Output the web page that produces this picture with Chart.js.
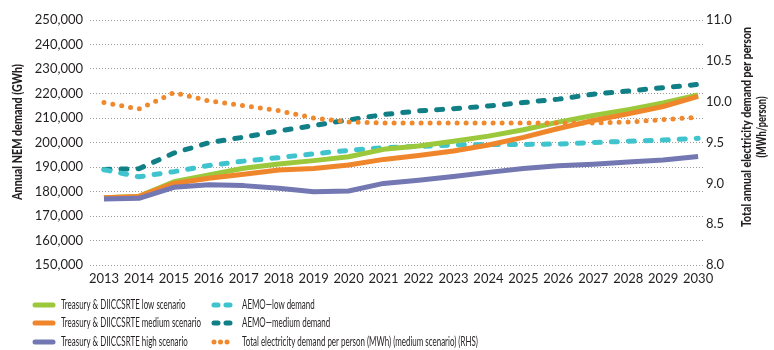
<!DOCTYPE html>
<html>
<head>
<meta charset="utf-8">
<script src="https://cdn.jsdelivr.net/npm/chart.js@4"></script>
<style>
    html, body { margin: 0; padding: 0; background: #fff; }
    #wrap { width: 774px; height: 350px; }
</style>
</head>
<body>
<div id="wrap"><canvas id="mainChart"></canvas></div>
<script>
// Datos
const years = [2013, 2014, 2015, 2016, 2017, 2018, 2019, 2020, 2021, 2022, 2023, 2024, 2025, 2026, 2027, 2028, 2029, 2030];
const treasuryLow = [177500, 178000, 184000, 186800, 189500, 191200, 192600, 194200, 197200, 198600, 200500, 202600, 205200, 208300, 211000, 213400, 216100, 219400];
const treasuryMedium = [177500, 178000, 183300, 185400, 187000, 188800, 189400, 190800, 193100, 194700, 196500, 199000, 202100, 205700, 209000, 211700, 214700, 218800];
const treasuryHigh = [176900, 177200, 181700, 182800, 182400, 181300, 179900, 180200, 183300, 184600, 186100, 187800, 189400, 190500, 191100, 192000, 192900, 194300];
const aemoLow = [188900, 186000, 188100, 190600, 192400, 193800, 195400, 196800, 197900, 198400, 199000, 199200, 199200, 199400, 200000, 200500, 201000, 201700];
const aemoMedium = [189000, 189300, 195700, 199900, 202200, 204700, 206900, 209200, 211400, 212900, 213800, 214900, 216300, 217700, 219700, 221000, 222400, 223700];
const perPerson = [9.99, 9.91, 10.11, 10.01, 9.95, 9.89, 9.80, 9.75, 9.74, 9.74, 9.74, 9.74, 9.74, 9.74, 9.74, 9.75, 9.78, 9.81];

const leftTitle = "Annual NEM demand (GWh)";
const rightTitle = ["Total annual electricity demand per person", "(MWh/person)"];

const tickFont = { family: "Lato, 'Open Sans', sans-serif", size: 13 };
const textColor = "#231f20";

function pts(values) {
    return values.map((v, i) => ({ x: years[i], y: v }));
}

function series(label, values, color, dash, axis, legendDash) {
    return {
        label: label,
        data: pts(values),
        borderColor: color,
        backgroundColor: color,
        borderWidth: 5,
        borderDash: dash,
        borderCapStyle: dash.length ? "round" : "butt",
        borderJoinStyle: "round",
        pointRadius: 0,
        tension: 0,
        yAxisID: axis,
        legendDash: legendDash,
    };
}

const datasets = [
    series("Total electricity demand per person (MWh) (medium scenario) (RHS)", perPerson, "#f0892e", [0, 9], "y1", [0, 6.5]),
    series("Treasury & DIICCSRTE high scenario", treasuryHigh, "#7378b3", [], "y", []),
    series("Treasury & DIICCSRTE medium scenario", treasuryMedium, "#f0862b", [], "y", []),
    series("Treasury & DIICCSRTE low scenario", treasuryLow, "#9cc83c", [], "y", []),
    series("AEMO\u2014low demand", aemoLow, "#3fc4cd", [6, 11], "y", [4, 8]),
    series("AEMO\u2014medium demand", aemoMedium, "#117f86", [6, 11], "y", [4, 8]),
];

// orden de la leyenda: columna 1 y columna 2
const legendOrder = [
    ["Treasury & DIICCSRTE low scenario", "Treasury & DIICCSRTE medium scenario", "Treasury & DIICCSRTE high scenario"],
    ["AEMO\u2014low demand", "AEMO\u2014medium demand", "Total electricity demand per person (MWh) (medium scenario) (RHS)"],
];

// texto girado, ajustado a un largo dado
function rotatedText(ctx, text, x, y, length) {
    const w = ctx.measureText(text).width;
    ctx.save();
    ctx.translate(x, y);
    ctx.rotate(-Math.PI / 2);
    ctx.scale(length / w, 1);
    ctx.fillText(text, 0, 0);
    ctx.restore();
}

const extrasPlugin = {
    id: "extras",
    afterDraw(chart) {
        const ctx = chart.ctx;
        ctx.save();
        ctx.fillStyle = textColor;
        ctx.textAlign = "center";
        ctx.textBaseline = "middle";
        ctx.font = "900 12.5px Lato, 'Open Sans', sans-serif";
        rotatedText(ctx, leftTitle, 18, 132, 136);
        rotatedText(ctx, rightTitle[0], 747, 127, 200);
        rotatedText(ctx, rightTitle[1], 762, 127, 61);

        // leyenda (texto estrecho, como en el original)
        const cols = [{ sx: 35, ex: 53, tx: 61 }, { sx: 214, ex: 232, tx: 242 }];
        const rows = [305, 323, 342];
        ctx.font = "13.5px Lato, 'Open Sans', sans-serif";
        ctx.textAlign = "left";
        const squeeze = 140 / ctx.measureText("Treasury & DIICCSRTE medium scenario").width;
        legendOrder.forEach((col, c) => {
            col.forEach((label, r) => {
                const ds = chart.data.datasets.find(d => d.label === label);
                const y = rows[r];
                ctx.save();
                ctx.strokeStyle = ds.borderColor;
                ctx.lineWidth = 5;
                ctx.lineCap = "round";
                ctx.setLineDash(ds.legendDash);
                ctx.beginPath();
                ctx.moveTo(cols[c].sx, y);
                ctx.lineTo(cols[c].ex, y);
                ctx.stroke();
                ctx.restore();
                ctx.save();
                ctx.translate(cols[c].tx, y);
                ctx.scale(squeeze, 1);
                ctx.fillText(label, 0, 0);
                ctx.restore();
            });
        });
        ctx.restore();
    },
};

new Chart(document.getElementById("mainChart").getContext("2d"), {
    type: "line",
    data: { datasets: datasets },
    options: {
        responsive: true,
        maintainAspectRatio: false,
        animation: false,
        devicePixelRatio: 1,
        layout: { padding: { top: 20, left: 0, right: 0, bottom: 0 } },
        plugins: {
            legend: { display: false },
            tooltip: { enabled: false },
        },
        scales: {
            x: {
                type: "linear",
                min: 2012.6,
                max: 2030.14,
                afterBuildTicks: s => { s.ticks = years.map(v => ({ value: v })); },
                afterFit: s => { s.height = 85; },
                ticks: {
                    callback: v => String(v),
                    font: tickFont,
                    color: textColor,
                    padding: 6,
                    maxRotation: 0,
                    autoSkip: false,
                },
                grid: { display: false, drawTicks: false },
                border: { display: false },
            },
            y: {
                position: "left",
                min: 150000,
                max: 250000,
                afterFit: s => { s.width = 90; },
                ticks: {
                    stepSize: 10000,
                    callback: v => v.toLocaleString("en-US"),
                    font: tickFont,
                    color: textColor,
                    padding: 7,
                },
                grid: { color: "#9a9a9a", lineWidth: 1, drawTicks: false },
                border: { display: false, dash: [1, 2] },
            },
            y1: {
                position: "right",
                min: 8,
                max: 11,
                afterFit: s => { s.width = 71; },
                ticks: {
                    stepSize: 0.5,
                    callback: v => v.toFixed(1),
                    font: tickFont,
                    color: textColor,
                    padding: 3,
                },
                grid: { display: false, drawTicks: false },
                border: { display: false },
            },
        },
    },
    plugins: [extrasPlugin],
});
</script>
</body>
</html>
